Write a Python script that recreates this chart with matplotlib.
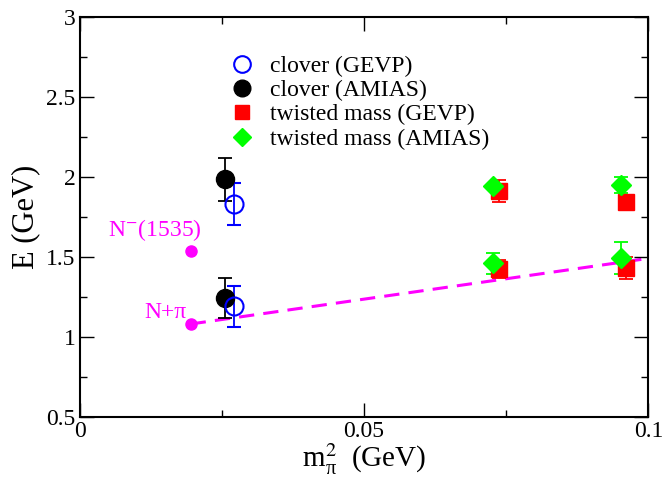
import matplotlib
matplotlib.use('Agg')
import matplotlib.pyplot as plt
from matplotlib.lines import Line2D
from matplotlib.ticker import MultipleLocator

plt.rcParams['font.family'] = ['Liberation Serif', 'DejaVu Serif']
plt.rcParams['mathtext.fontset'] = 'stix'

# clover (GEVP)
clov_gevp_x = [0.0271, 0.0271]
clov_gevp_y = [1.83, 1.19]
clov_gevp_err = [0.13, 0.13]

# clover (AMIAS)
clov_amias_x = [0.0255, 0.0255]
clov_amias_y = [1.985, 1.245]
clov_amias_err = [0.135, 0.125]

# twisted mass (GEVP)
tm_gevp_x = [0.0738, 0.0738, 0.0961, 0.0961]
tm_gevp_y = [1.91, 1.425, 1.84, 1.43]
tm_gevp_err = [0.07, 0.055, 0.0, 0.07]

# twisted mass (AMIAS)
tm_amias_x = [0.0727, 0.0727, 0.0951, 0.0951]
tm_amias_y = [1.94, 1.46, 1.95, 1.49]
tm_amias_err = [0.0, 0.065, 0.05, 0.10]

# physical points
phys_x = [0.0195, 0.0195]
phys_y = [1.535, 1.08]

# N + pi threshold line
thr_x = [0.0195, 0.1]
thr_y = [1.08, 1.49]

legend_labels = ['clover (GEVP)', 'clover (AMIAS)', 'twisted mass (GEVP)', 'twisted mass (AMIAS)']

fig = plt.figure(figsize=(6.65, 4.78), dpi=100)
ax = fig.add_axes([0.120, 0.128, 0.855, 0.837])

ax.plot(thr_x, thr_y, color='#ff00ff', ls=(0, (5, 3)), lw=2.2, zorder=1)
ax.plot(phys_x, phys_y, 'o', color='#ff00ff', ms=8, zorder=2)

eb = dict(capsize=5, elinewidth=1.3, capthick=1.3, ls='none')
ax.errorbar(tm_gevp_x, tm_gevp_y, yerr=tm_gevp_err, marker='s', color='red', ms=11, **eb)
ax.errorbar(tm_amias_x, tm_amias_y, yerr=tm_amias_err, marker='D', color='#00ff00', ms=10, **eb)
ax.errorbar(clov_amias_x, clov_amias_y, yerr=clov_amias_err, marker='o', color='black', ms=13, **eb)
ax.errorbar(clov_gevp_x, clov_gevp_y, yerr=clov_gevp_err, marker='o', color='blue',
            mfc='none', mew=1.5, ms=13, **eb)

ax.text(0.0215, 1.67, 'N$^{-}$(1535)', color='#ff00ff', fontsize=17, ha='right', va='center')
ax.text(0.0188, 1.15, 'N+π', color='#ff00ff', fontsize=17, ha='right', va='center')

handles = [
    Line2D([], [], ls='none', marker='o', color='blue', mfc='none', mew=1.5, ms=12),
    Line2D([], [], ls='none', marker='o', color='black', ms=12),
    Line2D([], [], ls='none', marker='s', color='red', ms=10),
    Line2D([], [], ls='none', marker='D', color='#00ff00', ms=9),
]
ax.legend(handles, legend_labels, loc='upper left', bbox_to_anchor=(0.235, 0.945),
          frameon=False, fontsize=17, handletextpad=0.7, labelspacing=0.12,
          handlelength=1.0, borderpad=0.2)

ax.set_xlim(0, 0.1)
ax.set_ylim(0.5, 3)
ax.xaxis.set_minor_locator(MultipleLocator(0.025))
ax.yaxis.set_minor_locator(MultipleLocator(0.25))
ax.set_xticks([0, 0.05, 0.1])
ax.set_xticklabels(['0', '0.05', '0.1'])
ax.set_yticks([0.5, 1, 1.5, 2, 2.5, 3])
ax.set_yticklabels(['0.5', '1', '1.5', '2', '2.5', '3'])
ax.tick_params(which='both', direction='in', top=True, right=True, labelsize=17, width=1)
ax.tick_params(which='major', length=10, pad=3)
ax.tick_params(which='minor', length=5)
for s in ax.spines.values():
    s.set_linewidth(1.5)

ax.set_xlabel('m$^{2}_{\\mathregular{π}}$  (GeV)', fontsize=21, labelpad=0)
ax.set_ylabel('E (GeV)', fontsize=22, labelpad=4)

fig.savefig('out.png', dpi=100)
